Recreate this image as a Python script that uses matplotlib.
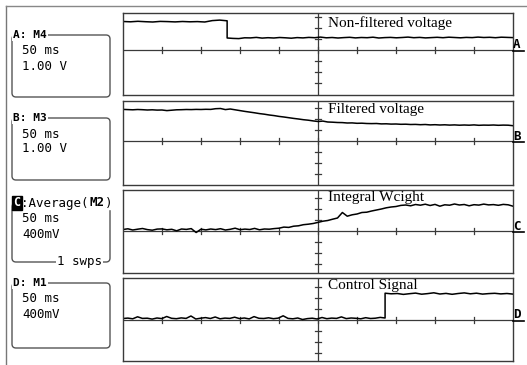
import numpy as np
import matplotlib
matplotlib.use('Agg')
import matplotlib.pyplot as plt
from matplotlib.patches import FancyBboxPatch

W, H = 527, 365

# time axis in divisions (0..10), levels in screen pixels above each channel baseline
a_step = 2.67
a_pre = [28.5, 28.2, 28.7, 28.3, 28.0, 28.6, 28.4, 28.1, 28.5, 28.2, 28.4, 28.0, 29.4, 29.9, 29.2]
a_post = [12.0, 11.6, 11.4, 12.2, 12.1, 12.6, 11.9, 12.3, 12.0, 12.5, 12.2, 11.8, 12.4, 12.1, 12.6,
          12.3, 12.9, 12.2, 12.5, 12.0, 12.4, 12.7, 12.1, 12.5, 12.3, 12.8, 12.0, 12.4, 12.6, 12.2,
          12.5, 12.9, 12.3, 12.6, 12.1, 12.4, 12.7, 12.3, 12.8, 12.5, 12.2, 12.6, 12.4, 12.9, 12.5,
          12.7, 12.3, 12.8, 12.6, 12.4]

b_level = [31.6, 31.4, 31.2, 31.5, 31.3, 31.0, 31.2, 30.9, 31.0, 30.4, 30.8, 31.2, 31.3, 31.5, 31.4,
           31.6, 31.5, 31.7, 31.6, 32.3, 32.5, 31.4, 32.0, 31.2, 30.4, 29.6, 28.9, 28.2, 27.4, 26.8,
           26.0, 25.4, 24.6, 24.0, 23.3, 22.6, 22.0, 21.3, 20.8, 20.1, 19.5, 19.9, 19.0, 18.8, 18.5,
           18.4, 18.0, 18.1, 17.7, 17.8, 17.5, 17.4, 17.5, 17.1, 17.2, 16.9, 17.0, 16.7, 16.8, 16.5,
           16.6, 16.3, 16.5, 16.1, 16.3, 16.0, 16.2, 15.9, 16.1, 15.8, 16.0, 15.8, 16.1, 15.7, 15.9,
           15.8, 16.0, 15.7, 15.9, 15.8, 15.3]

c_level = [1.5, 2.2, 1.0, 1.8, 2.5, 1.4, 0.8, 1.9, 2.1, 1.2, 1.7, 0.2, 2.0, 1.6, 2.4, -1.5,
           1.8, 1.1, 2.0, 1.4, 2.3, 1.0, 1.7, 2.8, 1.3, 1.9, 1.5, 2.6, 1.2, 2.0, 1.8,
           2.4, 2.8, 3.9, 3.6, 4.8, 5.2, 6.3, 6.8, 7.5, 8.6, 9.8, 10.5, 11.8, 13.0, 18.5,
           14.8, 16.2, 17.0, 18.5, 18.8, 20.0, 21.0, 22.0, 23.2, 24.0, 24.5, 25.6, 26.0, 25.2,
           26.5, 25.8, 26.8, 25.5, 26.6, 24.8, 26.2, 25.8, 27.0, 26.0, 26.5, 25.2, 26.3, 25.9,
           26.9, 26.1, 26.4, 25.7, 26.6, 26.2, 24.8]

d_step = 6.72
d_pre = [1.5, 1.9, 1.2, 3.2, 1.6, 1.8, 0.9, 2.0, 1.4, 3.5, 1.7, 1.3, 2.1, 1.6, 4.0, 1.0, 1.8,
         2.4, 1.5, 3.0, 1.2, 1.9, 1.6, 2.8, 1.4, 2.0, 1.1, 3.4, 1.7, 1.5, 2.2, 1.3, 1.9, 4.2,
         1.6, 1.2, 2.0, 0.5, 1.4, 1.8, 1.0, 2.5, 1.3, 1.9, 1.6, 3.1, 1.4, 2.0, 1.7, 1.2, 2.3,
         1.5, 1.8, 2.6, 2.0]
d_post = [26.8, 26.2, 26.5, 25.6, 26.3, 26.9, 25.8, 26.4, 27.2, 26.0, 26.6, 25.7, 26.5, 27.1,
          26.2, 26.8, 25.9, 26.4, 26.7, 26.1, 26.5, 25.9]

channels = ['A', 'B', 'C', 'D']
trace_names = ['Non-filtered voltage', 'Filtered voltage', 'Integral Wcight', 'Control Signal']
sources = ['M4', 'M3', 'M2', 'M1']
timebase = ['50 ms', '50 ms', '50 ms', '50 ms']
scales = ['1.00 V', '1.00 V', '400mV', '400mV']

# screen layout (pixels): panel top, bottom, baseline
panels = [(13, 95, 50), (101, 185, 141), (190, 273, 231), (278, 361, 320)]
boxes = [(35, 97), (118, 180), (203, 262), (283, 348)]
px_left, px_right = 123, 513

traces = [
    (np.concatenate([np.linspace(0, a_step, len(a_pre)), np.linspace(a_step, 10, len(a_post))]),
     np.array(a_pre + a_post)),
    (np.linspace(0, 10, len(b_level)), np.array(b_level)),
    (np.linspace(0, 10, len(c_level)), np.array(c_level)),
    (np.concatenate([np.linspace(0, d_step, len(d_pre)), np.linspace(d_step, 10, len(d_post))]),
     np.array(d_pre + d_post)),
]

fig = plt.figure(figsize=(W / 100, H / 100), dpi=100)
frame_col = '#3a3a3a'

for (top, bot, base), (t, y) in zip(panels, traces):
    ax = fig.add_axes([px_left / W, 1 - bot / H, (px_right - px_left) / W, (bot - top) / H])
    ax.set_xlim(0, 10)
    ax.set_ylim(-(bot - base), base - top)
    ax.set_xticks([])
    ax.set_yticks([])
    for s in ax.spines.values():
        s.set_color(frame_col)
        s.set_linewidth(1.0)
    ax.axhline(0, color=frame_col, lw=0.9)
    ax.axvline(5, color=frame_col, lw=0.9)
    for k in range(1, 10):
        ax.plot([k, k], [-3, 3], color=frame_col, lw=0.9)
    for k in [-33, -22, -11, 11, 22, 33]:
        if -(bot - base) < k < base - top:
            ax.plot([4.92, 5.08], [k, k], color=frame_col, lw=0.9)
    ax.plot(t, y, color='black', lw=1.1)

# overlay in pixel coordinates for the scope annotations
ov = fig.add_axes([0, 0, 1, 1])
ov.set_xlim(0, W)
ov.set_ylim(H, 0)
ov.set_axis_off()

ov.plot([6, 6], [6, H], color='#777777', lw=1.0)
ov.plot([6, W], [6, 6], color='#888888', lw=1.0)

label_y = [23, 109, 197, 285]
for name, ly in zip(trace_names, label_y):
    ov.text(328, ly, name, fontsize=11, family='Liberation Serif', va='center', ha='left')

for ch, (top, bot, base) in zip(channels, panels):
    ov.text(516.5, base - 5, ch, fontsize=9, family='DejaVu Sans Mono', weight='bold',
            ha='center', va='center')
    ov.plot([px_right, 524], [base + 0.5, base + 0.5], color='black', lw=1.2)

mono = 'DejaVu Sans Mono'
for i, (ch, src, tb, sc, (by0, by1)) in enumerate(zip(channels, sources, timebase, scales, boxes)):
    ov.add_patch(FancyBboxPatch((12, by0), 98, by1 - by0,
                                boxstyle='round,pad=0,rounding_size=4',
                                fill=False, ec='#555555', lw=1.0))
    ov.text(22, by0 + 16, tb, fontsize=9, family=mono, va='center')
    ov.text(22, by0 + 31, sc, fontsize=9, family=mono, va='center')
    if ch == 'C':
        ov.add_patch(plt.Rectangle((12, by0 - 7), 100, 13, color='white', zorder=3))
        ov.text(17, by0, ch, fontsize=8.5, family=mono, weight='bold', color='white',
                ha='center', va='center', zorder=4,
                bbox=dict(boxstyle='square,pad=0.08', fc='black', ec='black'))
        ov.text(21.5, by0, ':Average(', fontsize=9, family=mono, va='center', zorder=4)
        ov.text(89.5, by0, src, fontsize=9, family=mono, weight='bold', va='center', zorder=4)
        ov.text(104.5, by0, ')', fontsize=9, family=mono, va='center', zorder=4)
        ov.text(57, by1, '1 swps', fontsize=9, family=mono, va='center', zorder=4,
                bbox=dict(boxstyle='square,pad=0.05', fc='white', ec='none'))
    else:
        ov.text(13, by0, f'{ch}: {src}', fontsize=8, family=mono, weight='bold', va='center',
                zorder=4, bbox=dict(boxstyle='square,pad=0.1', fc='white', ec='none'))

fig.savefig('out.png', dpi=100)
